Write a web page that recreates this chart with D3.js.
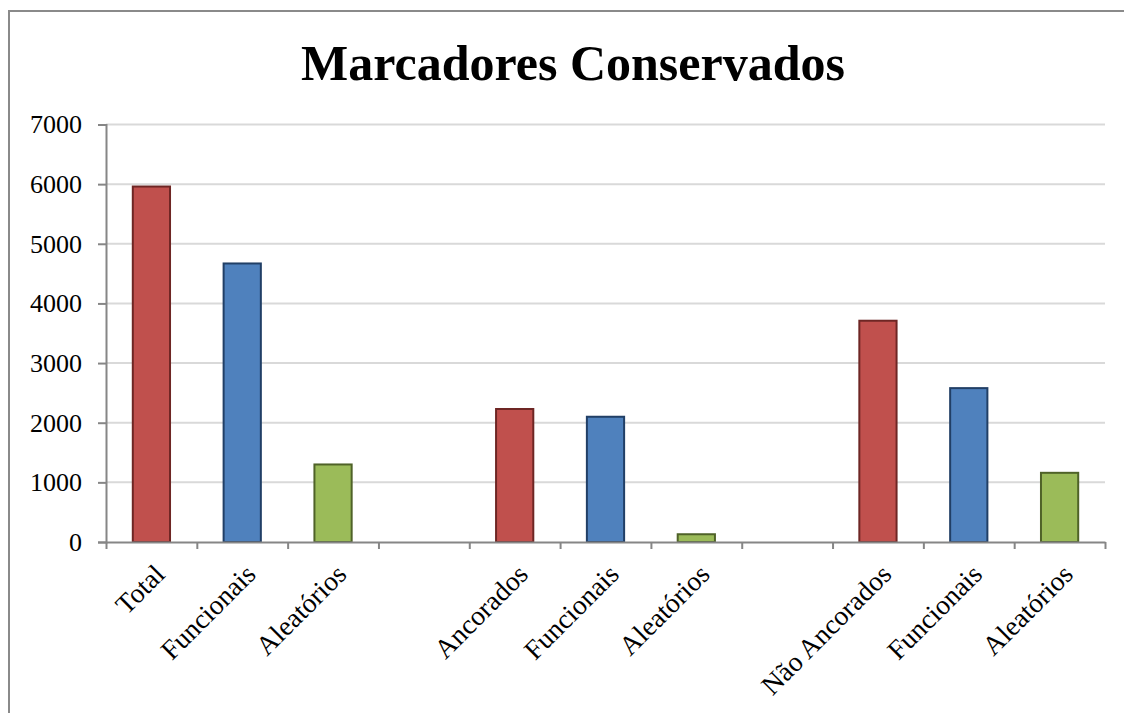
<!DOCTYPE html>
<html><head><meta charset="utf-8">
<script src="https://cdn.jsdelivr.net/npm/d3@7"></script>
<style>body{margin:0;background:#fff}svg{display:block}</style>
</head><body>
<svg id="c" width="1124" height="713"></svg>
<script>
const title = "Marcadores Conservados";
const categories = ["Total","Funcionais","Aleatórios","","Ancorados","Funcionais","Aleatórios","","Não Ancorados","Funcionais","Aleatórios"];
const values = [5960, 4670, 1300, null, 2230, 2100, 130, null, 3710, 2580, 1160];
const kinds = ["total","func","alea","","total","func","alea","","total","func","alea"];
const yTicks = [0,1000,2000,3000,4000,5000,6000,7000];

const fill = {total:"#C0504D", func:"#4F81BD", alea:"#9BBB59"};
const edge = {total:"#6E2624", func:"#213F66", alea:"#4F6228"};

const svg = d3.select("#c");
const font = "'Liberation Serif','Times New Roman',serif";
// frame
svg.append("rect").attr("x",9).attr("y",11).attr("width",1130).attr("height",720)
  .attr("fill","none").attr("stroke","#8a8a8a").attr("stroke-width",2);

const L=106, R=1105, T=124.5, B=542;
const y = d3.scaleLinear().domain([0,7000]).range([B,T]);
const xs = d3.scaleLinear().domain([0,categories.length]).range([L,R]);
const xb = d3.scaleBand().domain(d3.range(categories.length)).range([L,R]).paddingInner(0.59).paddingOuter(0.295);

// grid
svg.append("g").selectAll("line").data(yTicks.filter(d=>d>0)).join("line")
  .attr("x1",L).attr("x2",R).attr("y1",d=>y(d)).attr("y2",d=>y(d))
  .attr("stroke","#d9d9d9").attr("stroke-width",2);

// bars
svg.append("g").selectAll("rect").data(values.map((v,i)=>({v,i,k:kinds[i]})).filter(d=>d.v!=null)).join("rect")
  .attr("x",d=>xb(d.i)).attr("width",xb.bandwidth())
  .attr("y",d=>y(d.v)).attr("height",d=>y(0)-y(d.v))
  .attr("fill",d=>fill[d.k]).attr("stroke",d=>edge[d.k]).attr("stroke-width",2);

// y axis
const ya = svg.append("g").attr("transform",`translate(${L},0)`)
  .call(d3.axisLeft(y).tickValues(yTicks).tickSize(8).tickPadding(16).tickFormat(d3.format("d")));
ya.selectAll("path,line").attr("stroke","#868686").attr("stroke-width",2);
ya.selectAll("text").attr("font-family",font).attr("font-size",26).attr("fill","#000");

// x axis
const xa = svg.append("g").attr("transform",`translate(0,${B})`)
  .call(d3.axisBottom(xs).tickValues(d3.range(categories.length+1)).tickSize(7).tickSizeOuter(0).tickFormat(""));
xa.selectAll("path,line").attr("stroke","#868686").attr("stroke-width",2);

// x labels
svg.append("g").selectAll("text").data(categories.map((c,i)=>({c,i})).filter(d=>d.c)).join("text")
  .attr("transform",d=>`translate(${xb(d.i)+xb.bandwidth()/2+15},${B+34}) rotate(-45)`)
  .attr("text-anchor","end").attr("font-family",font).attr("font-size",27.5).attr("fill","#000")
  .text(d=>d.c);

// title
svg.append("text").attr("x",573).attr("y",80).attr("text-anchor","middle")
  .attr("font-family",font).attr("font-weight","bold").attr("font-size",50).attr("fill","#000")
  .text(title);
</script>
</body></html>
